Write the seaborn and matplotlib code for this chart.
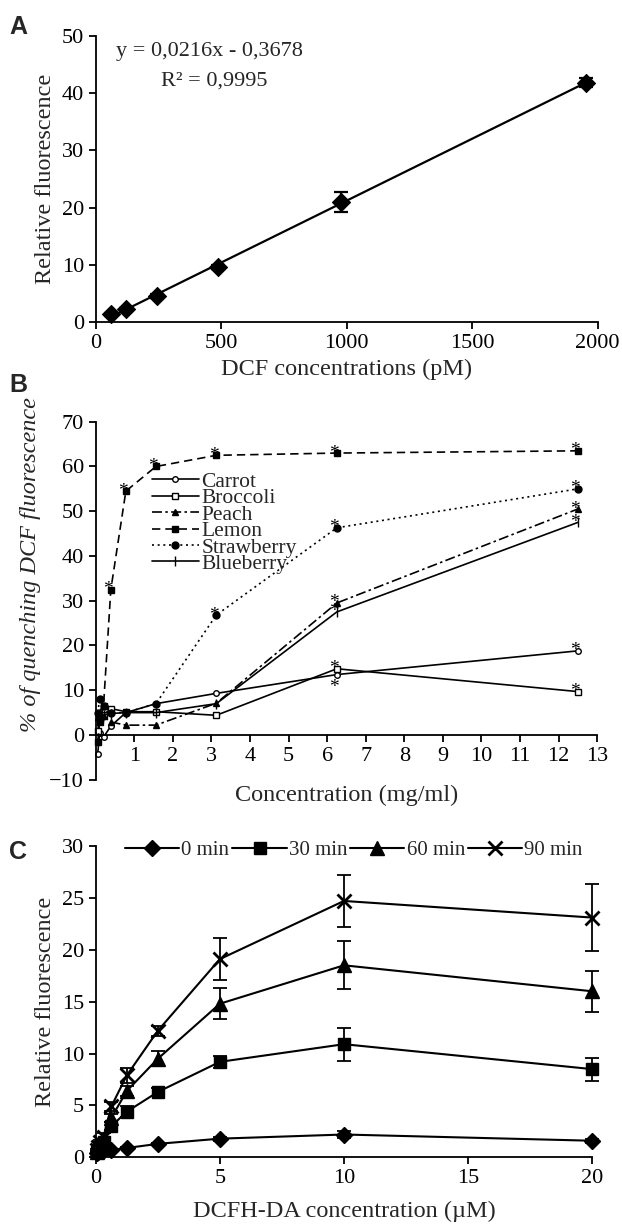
import numpy as np
import pandas as pd
import seaborn as sns
import matplotlib.pyplot as plt

# ---- data ----
# A: standard curve
dcf_pm = [61, 122, 244, 488, 976, 1953]
dcf_fluo = [1.4, 2.4, 4.6, 9.7, 21.0, 41.8]
dcf_err = [0.2, 0.2, 0.3, 0.3, 1.8, 0.8]

# B: quenching of DCF fluorescence
conc_mg = [0.05, 0.1, 0.2, 0.39, 0.78, 1.56, 3.125, 6.25, 12.5]
carrot = [-4.2, 0.5, -0.5, 2.0, 5.0, 7.0, 9.3, 13.5, 18.8]
broccoli = [1.0, 3.5, 4.5, 5.9, 5.2, 5.2, 4.4, 14.8, 9.7]
peach = [4.0, 5.0, 4.2, 2.9, 2.2, 2.2, 7.1, 29.5, 50.5]
lemon = [-1.5, 3.0, 6.5, 32.5, 54.5, 60.0, 62.5, 63.0, 63.5]
strawberry = [5.0, 8.0, 6.5, 4.9, 5.0, 7.0, 26.8, 46.3, 55.0]
blueberry = [3.0, 5.0, 4.5, 4.8, 5.0, 5.0, 7.0, 27.5, 47.5]
# points flagged with an asterisk (1 = above, -1 = below, 0 = none)
carrot_sig = [0, 0, 0, 0, 0, 0, 0, -1, 1]
broccoli_sig = [0, 0, 0, 0, 0, 0, 0, 1, 1]
peach_sig = [0, 0, 0, 0, 0, 0, 0, 1, 1]
lemon_sig = [0, 0, 0, 1, 1, 1, 1, 1, 1]
strawberry_sig = [0, 0, 0, 0, 0, 0, 1, 1, 1]
blueberry_sig = [0, 0, 0, 0, 0, 0, 0, 1, 1]

# C: DCFH-DA time course
dcfh_um = [0.039, 0.078, 0.156, 0.3125, 0.625, 1.25, 2.5, 5, 10, 20]
t0 = [0.4, 0.5, 0.6, 0.7, 0.7, 0.9, 1.3, 1.8, 2.2, 1.6]
t0_err = [0.1, 0.1, 0.1, 0.1, 0.1, 0.1, 0.1, 0.2, 0.3, 0.2]
t30 = [0.5, 0.7, 1.0, 1.5, 3.0, 4.4, 6.3, 9.2, 10.9, 8.5]
t30_err = [0.1, 0.1, 0.2, 0.2, 0.4, 0.5, 0.4, 0.6, 1.6, 1.1]
t60 = [0.5, 0.7, 1.0, 1.5, 3.8, 6.4, 9.5, 14.8, 18.5, 16.0]
t60_err = [0.1, 0.1, 0.2, 0.3, 0.4, 0.5, 0.7, 1.5, 2.3, 2.0]
t90 = [0.7, 1.0, 1.5, 2.0, 4.9, 7.9, 12.2, 19.1, 24.7, 23.1]
t90_err = [0.1, 0.2, 0.2, 0.3, 0.4, 0.7, 0.5, 2.0, 2.5, 3.2]

sns.set_style("ticks")
plt.rcParams['font.family'] = ['Liberation Serif', 'DejaVu Serif']
plt.rcParams['axes.linewidth'] = 1.3
plt.rcParams['xtick.major.width'] = 1.3
plt.rcParams['ytick.major.width'] = 1.3
plt.rcParams['xtick.major.size'] = 5
plt.rcParams['ytick.major.size'] = 5
plt.rcParams['xtick.labelsize'] = 16
plt.rcParams['ytick.labelsize'] = 16
plt.rcParams['axes.labelsize'] = 17.5
plt.rcParams['xtick.color'] = 'black'
plt.rcParams['ytick.color'] = 'black'
plt.rcParams['axes.edgecolor'] = 'black'

fig = plt.figure(figsize=(6.22, 12.26), dpi=100)
axA = fig.add_axes([0.154, 0.737, 0.807, 0.234])
axB = fig.add_axes([0.154, 0.364, 0.806, 0.292])
axC = fig.add_axes([0.154, 0.056, 0.798, 0.254])

# ---- panel A ----
sns.regplot(x=dcf_pm, y=dcf_fluo, ax=axA, ci=None, scatter=False, truncate=True,
            line_kws=dict(color='black', lw=1.6))
axA.errorbar(dcf_pm, dcf_fluo, yerr=dcf_err, fmt='none', ecolor='black',
             capsize=5, elinewidth=1.6, capthick=1.6)
sns.scatterplot(x=dcf_pm, y=dcf_fluo, ax=axA, marker='D', s=85, color='black',
                edgecolor='black', zorder=5, clip_on=False)
axA.set_xlim(0, 2000)
axA.set_ylim(0, 50)
axA.set_xticks([0, 500, 1000, 1500, 2000])
axA.set_yticks([0, 10, 20, 30, 40, 50])
axA.set_xlabel('DCF concentrations (pM)')
axA.set_ylabel('Relative fluorescence')
axA.text(0.04, 0.945, 'y = 0,0216x - 0,3678', transform=axA.transAxes,
         fontsize=16, va='center')
axA.text(0.13, 0.84, 'R\u00b2 = 0,9995', transform=axA.transAxes,
         fontsize=16, va='center')
sns.despine(ax=axA)

# ---- panel B ----
fruits = [
    ('Carrot', carrot, carrot_sig, 'o', 'white', '-', 4),
    ('Broccoli', broccoli, broccoli_sig, 's', 'white', '-', 5),
    ('Peach', peach, peach_sig, '^', 'black', (0, (6, 2, 1.5, 2)), 5),
    ('Lemon', lemon, lemon_sig, 's', 'black', (0, (5, 3)), 5),
    ('Strawberry', strawberry, strawberry_sig, 'o', 'black', (0, (1.2, 2.2)), 5),
    ('Blueberry', blueberry, blueberry_sig, '|', 'black', '-', 7),
]
for name, vals, sig, mk, mfc, ls, ms in fruits:
    sns.lineplot(x=conc_mg, y=vals, ax=axB, color='black', lw=1.2, linestyle=ls,
                 marker=mk, markersize=ms, markerfacecolor=mfc,
                 markeredgecolor='black', markeredgewidth=1.0, label=name,
                 clip_on=False)
    for xv, yv, s in zip(conc_mg, vals, sig):
        if s != 0:
            axB.annotate('*', (xv, yv), xytext=(-2, 0 if s > 0 else -9),
                         textcoords='offset points', ha='center', va='center',
                         fontsize=14, color='black')
axB.set_xlim(0, 13)
axB.set_ylim(-10, 70)
axB.set_xticks(range(1, 14))
axB.set_yticks(range(-10, 71, 10))
axB.spines['bottom'].set_position(('data', 0))
axB.set_xlabel('Concentration (mg/ml)', labelpad=14)
axB.set_ylabel('% of quenching DCF fluorescence', style='italic')
axB.yaxis.set_label_coords(-0.11, 0.6)
axB.legend(loc='upper left', bbox_to_anchor=(0.09, 0.89), frameon=False,
           fontsize=15.5, labelspacing=-0.17, handlelength=2.2,
           handletextpad=0.1, borderpad=0)
sns.despine(ax=axB)

# ---- panel C ----
series_c = [
    ('0 min', t0, t0_err, 'D', 8),
    ('30 min', t30, t30_err, 's', 9),
    ('60 min', t60, t60_err, '^', 10),
    ('90 min', t90, t90_err, 'x', 10),
]
for name, vals, err, mk, ms in series_c:
    axC.errorbar(dcfh_um, vals, yerr=err, fmt='none', ecolor='black',
                 capsize=5, elinewidth=1.3, capthick=1.3, clip_on=False)
    sns.lineplot(x=dcfh_um, y=vals, ax=axC, color='black', lw=1.5,
                 marker=mk, markersize=ms, markerfacecolor='black',
                 markeredgecolor='black', markeredgewidth=2 if mk == 'x' else 1,
                 label=name, clip_on=False, zorder=4)
axC.set_xlim(0, 20)
axC.set_ylim(0, 30)
axC.set_xticks([0, 5, 10, 15, 20])
axC.set_yticks([0, 5, 10, 15, 20, 25, 30])
axC.set_xlabel('DCFH-DA concentration (\u00b5M)', labelpad=9)
axC.set_ylabel('Relative fluorescence')
axC.legend(loc='center', bbox_to_anchor=(0.52, 0.985), ncol=4, frameon=False,
           fontsize=15, handlelength=2.6, handletextpad=0.1,
           columnspacing=0.15, borderpad=0)
sns.despine(ax=axC)

# panel letters
for lab, yy in [('A', 0.978), ('B', 0.686), ('C', 0.305)]:
    fig.text(0.015, yy, lab, fontsize=18, fontweight='bold',
             family=['Liberation Sans', 'DejaVu Sans'], va='center')

fig.savefig('out.png', dpi=100)
